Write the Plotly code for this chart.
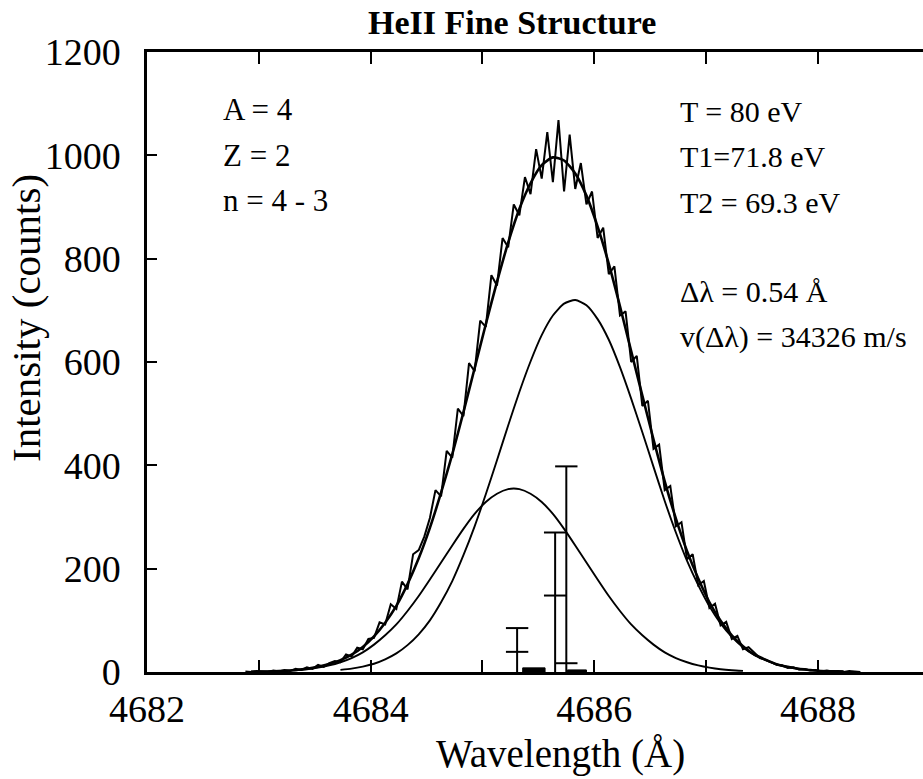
import plotly.graph_objects as go

# ---------------- data ----------------
# measured HeII 4686 spectrum, counts every 0.05 Å starting at 4682.88 Å
meas_start = 4682.88
meas_step = 0.05
meas_counts = [1, 0, 2, 1, 0, 3, 1, 4, 2, 6, 4, 9, 6, 14, 10, 17, 21, 19, 34, 30,
               47, 44, 64, 66, 96, 92, 131, 122, 175, 160, 228, 236, 262, 298, 352, 340, 428, 415, 510, 495,
               598, 582, 680, 668, 768, 748, 840, 822, 905, 884, 958, 925, 1012, 955, 1045, 948, 1068, 930, 1040, 935,
               985, 905, 930, 840, 860, 770, 785, 690, 698, 600, 612, 515, 525, 432, 440, 352, 360, 282, 290, 218,
               228, 168, 176, 124, 132, 90, 97, 64, 70, 44, 48, 38, 27, 24, 19, 14, 13, 8, 9, 5,
               6, 3, 4, 1, 3, 1, 2, 0, 2, 1, 0]

# total fit, every 0.1 Å starting at 4682.93 Å
fit_start = 4682.93
fit_step = 0.1
fit_counts = [0.4, 0.7, 1.2, 2.2, 3.8, 6.2, 10, 15.3, 23, 33.6, 48.5, 69, 95.5, 128, 170, 220, 279, 347,
              421, 503, 588, 673, 755, 831, 896, 946, 981, 996, 990, 965, 922, 862, 790, 708, 621, 535,
              450, 369, 297, 234, 181, 135, 99, 71, 50, 34, 24, 15, 10, 6, 4, 2, 1.3, 0.7]

# component 1 (T1), every 0.1 Å starting at 4683.73 Å
comp1_start = 4683.73
comp1_counts = [4.1, 6.6, 10.5, 16, 24.5, 36, 52, 73, 100, 135, 176, 226, 282, 344, 410, 477, 542, 601,
                652, 690, 713, 720, 710, 683, 643, 590, 529, 464, 397, 331, 270, 215, 168, 127, 94, 68,
                48, 33, 23, 15, 9.6, 6, 3.7, 2, 1.3, 0.7]

# component 2 (T2), every 0.1 Å starting at 4682.93 Å
comp2_start = 4682.93
comp2_counts = [0.4, 0.7, 1.3, 2.1, 3.4, 5.4, 8.5, 12.8, 18.9, 27, 38, 53, 71, 92, 118, 147, 179, 212,
                245, 277, 306, 329, 345, 354, 354, 345, 329, 306, 277, 245, 212, 179, 147, 118, 92, 71,
                53, 38, 27, 18.9, 12.8, 8.5, 5.4, 3.4, 2.1]

# fine-structure sticks: wavelength, marked levels (top first)
stick_wl = [4685.31, 4685.65, 4685.75]
stick_marks = [[85, 39], [270, 148], [398, 17]]

# weak components drawn as small boxes on the baseline
box_wl0 = [4685.36, 4685.76]
box_wl1 = [4685.56, 4685.93]
box_h = [8, 4]

x_tickvals = [4682, 4683, 4684, 4685, 4686, 4687, 4688]
x_ticktext = ["4682", "", "4684", "", "4686", "", "4688"]
y_tickvals = [0, 200, 400, 600, 800, 1000, 1200]

left_labels = ["A = 4", "Z = 2", "n = 4 - 3"]
right_labels = ["T = 80 eV", "T1=71.8 eV", "T2 = 69.3 eV", "Δλ = 0.54 Å", "v(Δλ) = 34326 m/s"]

# ---------------- styles ----------------
FONT = "Liberation Serif"
CAP_HALF = 0.1
W, H = 923, 779
L, R, T, B = 147, 0, 52, 107


def grid(start, step, n):
    return [round(start + i * step, 4) for i in range(n)]


fig = go.Figure()

fig.add_trace(go.Scatter(x=grid(comp2_start, fit_step, len(comp2_counts)), y=comp2_counts,
                         mode="lines", line=dict(color="black", width=1.9, shape="spline", smoothing=0.6),
                         hoverinfo="skip"))
fig.add_trace(go.Scatter(x=grid(comp1_start, fit_step, len(comp1_counts)), y=comp1_counts,
                         mode="lines", line=dict(color="black", width=1.9, shape="spline", smoothing=0.6),
                         hoverinfo="skip"))
fig.add_trace(go.Scatter(x=grid(fit_start, fit_step, len(fit_counts)), y=fit_counts,
                         mode="lines", line=dict(color="black", width=2.6, shape="spline", smoothing=0.6),
                         hoverinfo="skip"))
fig.add_trace(go.Scatter(x=grid(meas_start, meas_step, len(meas_counts)), y=meas_counts,
                         mode="lines", line=dict(color="black", width=2.0),
                         hoverinfo="skip"))

# sticks with horizontal marks
sx, sy = [], []
for wl, marks in zip(stick_wl, stick_marks):
    sx += [wl, wl, None]
    sy += [0, max(marks), None]
    for m in marks:
        sx += [wl - CAP_HALF, wl + CAP_HALF, None]
        sy += [m, m, None]
fig.add_trace(go.Scatter(x=sx, y=sy, mode="lines", line=dict(color="black", width=2),
                         hoverinfo="skip"))

for a, b, h in zip(box_wl0, box_wl1, box_h):
    fig.add_trace(go.Scatter(x=[a, b, b, a, a], y=[0, 0, h, h, 0], mode="lines", fill="toself",
                             fillcolor="black", line=dict(color="black", width=1), hoverinfo="skip"))

pw = W - L - R
ph = H - T - B


def px(xp):
    return (xp - L) / pw


def py(yp):
    return (H - B - yp) / ph


ann = []
ann.append(dict(text="<b>HeII Fine Structure</b>", x=px(512), y=py(22), xref="paper", yref="paper",
                showarrow=False, font=dict(family=FONT, size=34, color="black"),
                xanchor="center", yanchor="middle"))
ann.append(dict(text="Wavelength (Å)", x=px(560), y=py(754), xref="paper", yref="paper",
                showarrow=False, font=dict(family=FONT, size=39, color="black"),
                xanchor="center", yanchor="middle"))
ann.append(dict(text="Intensity (counts)", x=px(26), y=py(318), xref="paper", yref="paper",
                showarrow=False, textangle=-90, font=dict(family=FONT, size=41, color="black"),
                xanchor="center", yanchor="middle"))
for txt, yp in zip(left_labels, [110, 155, 200]):
    ann.append(dict(text=txt, x=px(221), y=py(yp), xref="paper", yref="paper", showarrow=False,
                    font=dict(family=FONT, size=31, color="black"), xanchor="left", yanchor="middle"))
for txt, yp in zip(right_labels, [111, 157, 202, 291, 337]):
    ann.append(dict(text=txt, x=px(678), y=py(yp), xref="paper", yref="paper", showarrow=False,
                    font=dict(family=FONT, size=30, color="black"), xanchor="left", yanchor="middle"))

fig.update_layout(
    width=W, height=H, autosize=False,
    margin=dict(l=L, r=R, t=T, b=B, pad=0),
    paper_bgcolor="white", plot_bgcolor="white",
    showlegend=False,
    annotations=ann,
    xaxis=dict(range=[4682, 4688.94], tickvals=x_tickvals, ticktext=x_ticktext,
               ticks="inside", ticklen=12, tickwidth=2, tickcolor="black",
               showline=True, linecolor="black", linewidth=2.5, mirror="ticks",
               showgrid=False, zeroline=False, ticklabelstandoff=2,
               tickfont=dict(family=FONT, size=38, color="black")),
    yaxis=dict(range=[0, 1200], tickvals=y_tickvals,
               ticks="inside", ticklen=10, tickwidth=2, tickcolor="black",
               showline=True, linecolor="black", linewidth=2.5, mirror=False,
               showgrid=False, zeroline=False, ticklabelstandoff=16,
               tickfont=dict(family=FONT, size=38, color="black")),
)

fig.write_html("out.html")
